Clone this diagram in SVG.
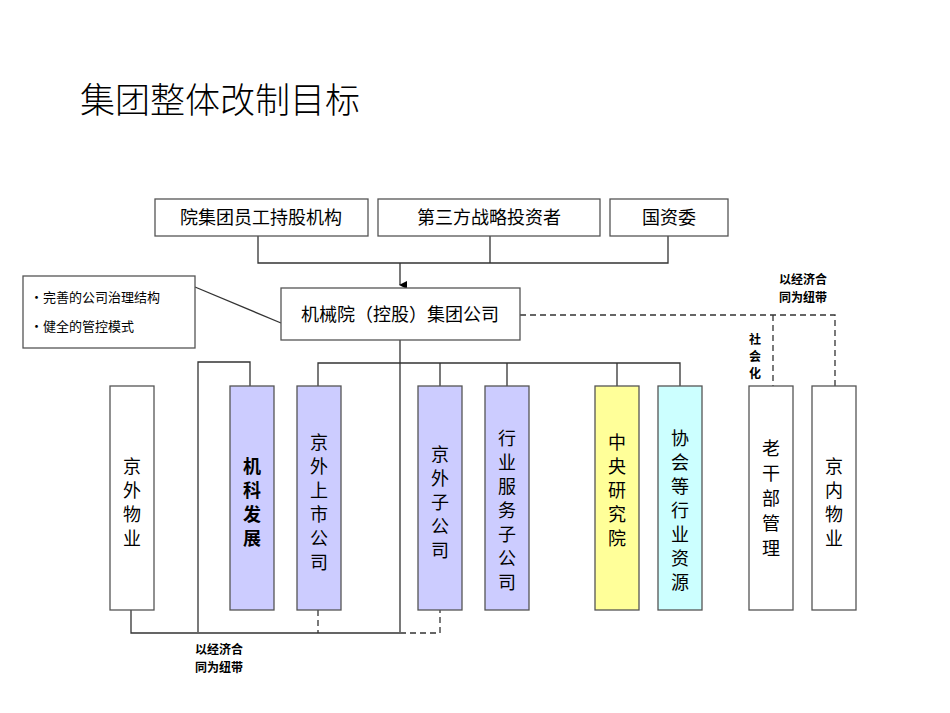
<svg xmlns="http://www.w3.org/2000/svg" width="950" height="713" viewBox="0 0 950 713">
<style>
text{font-family:"Noto Sans CJK SC","Liberation Sans",sans-serif;fill:#000}
.b{stroke:#555;stroke-width:1.3;fill:#fff}
.l{stroke:#333;stroke-width:1.3;fill:none}
.d{stroke:#333;stroke-width:1.3;fill:none;stroke-dasharray:6,4}
.t{font-size:18px;text-anchor:middle}
.s{font-size:12px;font-weight:bold}
</style>
<defs><marker id="a" markerWidth="8" markerHeight="8" refX="4" refY="7" orient="auto" markerUnits="userSpaceOnUse"><path d="M0,0L8,0L4,8Z" fill="#000"/></marker></defs>
<text x="80" y="113" font-size="35" font-weight="300">集团整体改制目标</text>
<g id="connectors">
<path class="l" d="M258,236V263H668V236M490,236V263M400,263V285" marker-end="url(#a)"/>
<path class="l" d="M195,287L281,323"/>
<path class="l" d="M400,340V632M198,632V362H250V386M318,386V363H680V386M440,363V386M507,363V386M617,363V386"/>
<path class="l" d="M131,610V633H400"/>
<path class="d" d="M400,633H440V610M318,610V633"/>
<path class="d" d="M520,315H835V386M773,315V386"/>
</g>
<g id="top1"><rect class="b" x="155" y="199" width="213" height="37"/><text class="t" x="261" y="224">院集团员工持股机构</text></g>
<g id="top2"><rect class="b" x="378" y="199" width="222" height="37"/><text class="t" x="489" y="224">第三方战略投资者</text></g>
<g id="top3"><rect class="b" x="610" y="199" width="118" height="37"/><text class="t" x="669" y="224">国资委</text></g>
<g id="note"><rect class="b" x="23" y="276" width="172" height="72"/><text x="30" y="302" font-size="13">•完善的公司治理结构</text><text x="30" y="331" font-size="13">•健全的管控模式</text></g>
<g id="main"><rect class="b" x="281" y="288" width="239" height="52"/><text class="t" x="400" y="321">机械院（控股）集团公司</text></g>
<g id="n1"><rect class="b" x="110" y="386" width="44" height="224"/><text class="t"><tspan x="132" y="473">京</tspan><tspan x="132" y="497">外</tspan><tspan x="132" y="521">物</tspan><tspan x="132" y="545">业</tspan></text></g>
<g id="n2"><rect class="b" x="230" y="386" width="44" height="224" style="fill:#ccccff"/><text class="t" font-weight="bold"><tspan x="252" y="473">机</tspan><tspan x="252" y="497">科</tspan><tspan x="252" y="521">发</tspan><tspan x="252" y="545">展</tspan></text></g>
<g id="n3"><rect class="b" x="297" y="386" width="44" height="224" style="fill:#ccccff"/><text class="t"><tspan x="319" y="449">京</tspan><tspan x="319" y="473">外</tspan><tspan x="319" y="497">上</tspan><tspan x="319" y="521">市</tspan><tspan x="319" y="545">公</tspan><tspan x="319" y="569">司</tspan></text></g>
<g id="n4"><rect class="b" x="418" y="386" width="44" height="224" style="fill:#ccccff"/><text class="t"><tspan x="440" y="461">京</tspan><tspan x="440" y="485">外</tspan><tspan x="440" y="509">子</tspan><tspan x="440" y="533">公</tspan><tspan x="440" y="557">司</tspan></text></g>
<g id="n5"><rect class="b" x="485" y="386" width="44" height="224" style="fill:#ccccff"/><text class="t"><tspan x="507" y="445">行</tspan><tspan x="507" y="469">业</tspan><tspan x="507" y="493">服</tspan><tspan x="507" y="517">务</tspan><tspan x="507" y="541">子</tspan><tspan x="507" y="565">公</tspan><tspan x="507" y="589">司</tspan></text></g>
<g id="n6"><rect class="b" x="595" y="386" width="44" height="224" style="fill:#ffff99"/><text class="t"><tspan x="617" y="449">中</tspan><tspan x="617" y="473">央</tspan><tspan x="617" y="497">研</tspan><tspan x="617" y="521">究</tspan><tspan x="617" y="545">院</tspan></text></g>
<g id="n7"><rect class="b" x="658" y="386" width="44" height="224" style="fill:#ccffff"/><text class="t"><tspan x="680" y="445">协</tspan><tspan x="680" y="469">会</tspan><tspan x="680" y="493">等</tspan><tspan x="680" y="517">行</tspan><tspan x="680" y="541">业</tspan><tspan x="680" y="565">资</tspan><tspan x="680" y="589">源</tspan></text></g>
<g id="n8"><rect class="b" x="749" y="386" width="44" height="224"/><text class="t"><tspan x="771" y="455">老</tspan><tspan x="771" y="480">干</tspan><tspan x="771" y="505">部</tspan><tspan x="771" y="530">管</tspan><tspan x="771" y="555">理</tspan></text></g>
<g id="n9"><rect class="b" x="812" y="386" width="44" height="224"/><text class="t"><tspan x="834" y="473">京</tspan><tspan x="834" y="497">内</tspan><tspan x="834" y="521">物</tspan><tspan x="834" y="545">业</tspan></text></g>
<text class="s" x="779" y="284">以经济合</text><text class="s" x="779" y="302">同为纽带</text>
<text class="s" text-anchor="middle"><tspan x="755" y="344">社</tspan><tspan x="755" y="361">会</tspan><tspan x="755" y="378">化</tspan></text>
<text class="s" x="195" y="654">以经济合</text><text class="s" x="195" y="672">同为纽带</text>
</svg>
